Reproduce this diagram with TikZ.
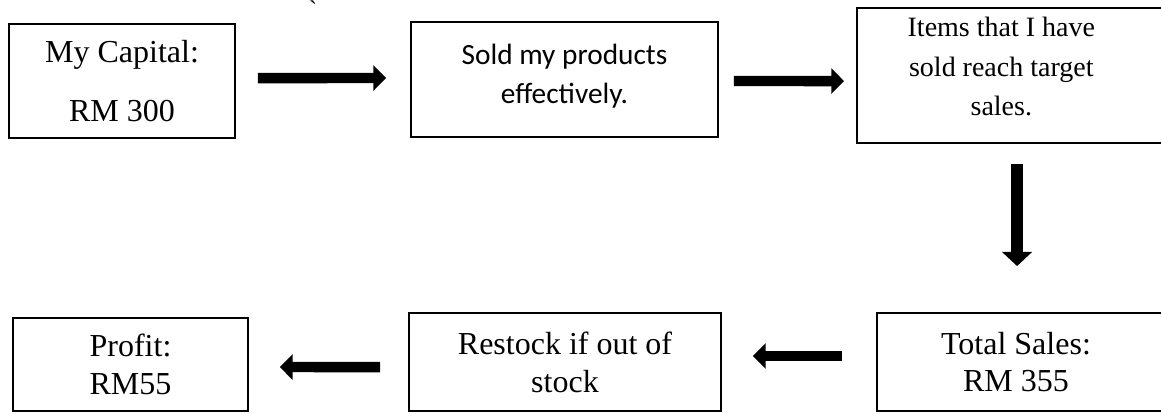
\documentclass[tikz,border=0pt]{standalone}
\usepackage{fontspec}
\setmainfont{Liberation Serif}
\newfontfamily\calibri{Carlito}
\usepackage{tikz}
\usetikzlibrary{positioning,arrows.meta,calc}

\begin{document}
\begin{tikzpicture}[
  x=0.375pt,y=-0.375pt,
  box/.style={draw,line width=0.7pt,align=center,inner sep=0pt,font=\fontsize{12}{14.2}\selectfont},
  arr/.style={-{Triangle[width=9.4pt,length=4.8pt]},line width=3.9pt}]
\useasboundingbox (0,0) rectangle (1161,414);
\node[box,minimum width=84.75pt,minimum height=42.75pt,font=\fontsize{12}{22}\selectfont] (cap) at (122,81) {My Capital:\\RM 300};
\node[box,minimum width=115.1pt,minimum height=43.1pt,font=\calibri\fontsize{11}{14.3}\selectfont] (sold) at (564.5,79.5) {Sold my products\\effectively.\\[-10pt]};
\node[box,minimum width=119.25pt,minimum height=50.6pt,font=\fontsize{10.5}{14.8}\selectfont] (items) at (1016,75.5) {\mbox{Items that I have\kern11pt}\\\mbox{sold reach target\kern11pt}\\\mbox{sales.\kern11pt}\\[-8pt]};
\node[box,minimum width=110pt,minimum height=36.75pt] (total) at (1024,362) {\mbox{Total Sales:\kern6pt}\\\mbox{RM 355\kern6pt}};
\node[box,minimum width=117pt,minimum height=36.75pt] (restock) at (565,362) {Restock if out of\\stock};
\node[box,minimum width=88.1pt,minimum height=34.9pt] (profit) at (130.5,364.5) {Profit:\\RM55};
\node[font=\small,inner sep=0pt] (tick) at (313,9) {\textasciigrave};
\draw[arr,shorten <=8.25pt,shorten >=9pt] ([yshift=1.1pt]cap.east) -- ([yshift=0.55pt]sold.west);
\draw[arr,shorten <=5.6pt,shorten >=4.5pt] ([yshift=-0.55pt]sold.east) -- ([yshift=-2.1pt]items.west);
\draw[arr,line width=4.8pt,-{Triangle[width=11pt,length=5.3pt]},shorten <=7.5pt,shorten >=17.25pt] ([xshift=0.4pt]items.south) -- ([xshift=-2.6pt]total.north);
\draw[arr,shorten <=12.75pt,shorten >=11.6pt] ([yshift=2.25pt]total.west) -- ([yshift=2.25pt]restock.east);
\draw[arr,shorten <=10.5pt,shorten >=11.6pt] ([yshift=-1.9pt]restock.west) -- ([yshift=-0.95pt]profit.east);
\end{tikzpicture}
\end{document}
